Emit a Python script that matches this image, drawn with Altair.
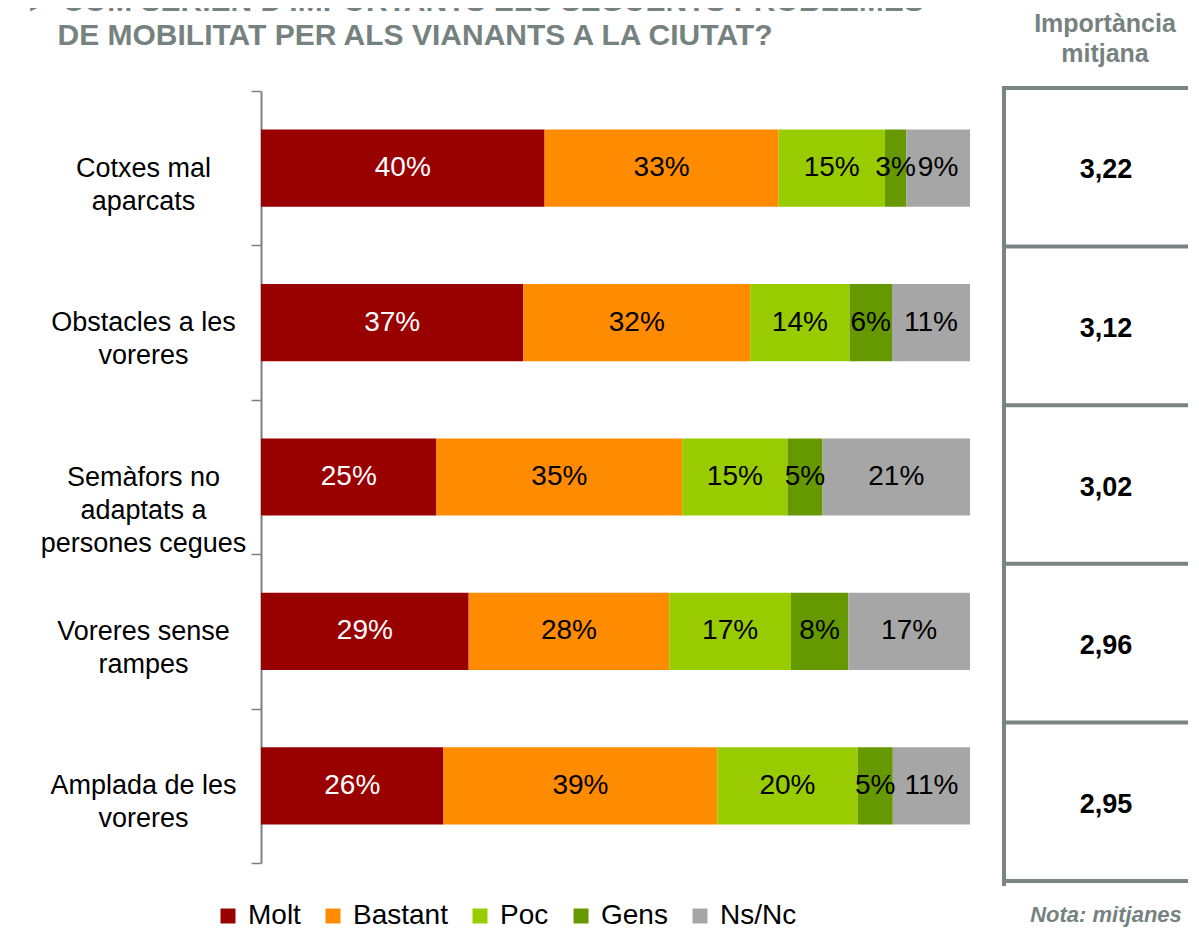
import altair as alt
import pandas as pd

# ---------------- data ----------------
title_lines = ["► COM SERIEN D'IMPORTANTS ELS SEGÜENTS PROBLEMES",
               "DE MOBILITAT PER ALS VIANANTS A LA CIUTAT?"]
categories = ["Cotxes mal\naparcats",
              "Obstacles a les\nvoreres",
              "Semàfors no\nadaptats a\npersones cegues",
              "Voreres sense\nrampes",
              "Amplada de les\nvoreres"]
series = ["Molt", "Bastant", "Poc", "Gens", "Ns/Nc"]
molt = [40, 37, 25, 29, 26]
bastant = [33, 32, 35, 28, 39]
poc = [15, 14, 15, 17, 20]
gens = [3, 6, 5, 8, 5]
nsnc = [9, 11, 21, 17, 11]
colors = ["#990000", "#ff8c00", "#99cc00", "#669900", "#a6a6a6"]
mitjana = [3.22, 3.12, 3.02, 2.96, 2.95]
header_lines = ["Importància", "mitjana"]
note_text = "Nota: mitjanes"

FONT = "Liberation Sans"
GREY_T = "#76827f"
GREY_BOX = "#7a8583"

rows = []
for i, cat in enumerate(categories):
    for j, (s, vals) in enumerate(zip(series, [molt, bastant, poc, gens, nsnc])):
        rows.append({"cat": cat, "serie": s, "value": vals[i], "order": j})
df = pd.DataFrame(rows)

# ---------------- left: stacked bars ----------------
y_axis = alt.Axis(title=None, labelExpr="split(datum.label, '\\n')", labelAlign="center",
                  labelBaseline="middle", labelFontSize=27, labelFont=FONT, labelColor="black",
                  labelLineHeight=33, labelPadding=108, labelLimit=400, tickSize=10,
                  tickBand="extent", tickColor="#808080", tickWidth=1.5,
                  domainColor="#808080", domainWidth=2, grid=False)
y_enc = alt.Y("cat:N", sort=categories,
              scale=alt.Scale(paddingInner=0, paddingOuter=0), axis=y_axis)

stacked = alt.Chart(df).transform_stack(
    stack="value", groupby=["cat"], as_=["v0", "v1"], offset="normalize",
    sort=[alt.SortField("order", order="ascending")])

bars = stacked.mark_bar(height={"band": 0.5}).encode(
    y=y_enc,
    x=alt.X("v0:Q", axis=None, scale=alt.Scale(domain=[0, 1], nice=False)),
    x2="v1:Q",
    color=alt.Color("serie:N", scale=alt.Scale(domain=series, range=colors),
                    legend=alt.Legend(title=None, orient="none", legendX=-47, legendY=811,
                                      direction="horizontal", symbolType="square",
                                      symbolSize=225, symbolStrokeWidth=0,
                                      labelFontSize=28, labelFont=FONT, labelColor="black",
                                      columnPadding=18, labelOffset=6)),
)

texts = stacked.transform_calculate(
    mid="(datum.v0 + datum.v1) / 2", label="datum.value + '%'"
).mark_text(fontSize=28, font=FONT).encode(
    y=alt.Y("cat:N", sort=categories),
    x=alt.X("mid:Q"),
    text="label:N",
    color=alt.condition("datum.serie == 'Molt'", alt.value("white"), alt.value("black")),
)

left = alt.layer(bars, texts).properties(
    width=709, height=772,
    title=alt.TitleParams(text=[title_lines[0],
                                "\u200b" + "\u00a0" * 4 + title_lines[1]],
                          anchor="start", frame="bounds", fontSize=30, fontWeight="bold",
                          font=FONT, color=GREY_T, lineHeight=34, offset=26, dx=-16),
)

# ---------------- right: mean importance boxes ----------------
W = 184
n = len(mitjana)
box_df = pd.DataFrame({"idx": list(range(n)), "val": mitjana})
edge_df = pd.DataFrame({"b": list(range(n + 1))})
side_df = pd.DataFrame({"b0": [0], "b1": [n]})
yscale = alt.Scale(domain=[0, n], reverse=True, nice=False, zero=False)

hlines = alt.Chart(edge_df).mark_rule(stroke=GREY_BOX, strokeWidth=4, yOffset=-3).encode(
    y=alt.Y("b:Q", scale=yscale, axis=None), x=alt.value(0), x2=alt.value(W))
vline = alt.Chart(side_df).mark_rule(stroke=GREY_BOX, strokeWidth=4, yOffset=-3,
                                     strokeCap="square").encode(
    y=alt.Y("b0:Q", scale=yscale, axis=None), y2="b1:Q", x=alt.value(0))
vals = alt.Chart(box_df).transform_calculate(
    yc="datum.idx + 0.5", txt="replace(format(datum.val, '.2f'), '.', ',')"
).mark_text(fontSize=27, fontWeight="bold", font=FONT, color="black").encode(
    y=alt.Y("yc:Q", scale=yscale, axis=None), x=alt.value(102), text="txt:N")
note = alt.Chart(pd.DataFrame({"t": [note_text]})).mark_text(
    fontSize=22, fontWeight="bold", fontStyle="italic", font=FONT, color=GREY_T,
    baseline="alphabetic").encode(x=alt.value(102), y=alt.value(831), text="t:N")

right = alt.layer(hlines, vline, vals, note).properties(
    width=W, height=793,
    title=alt.TitleParams(text=header_lines, anchor="middle", fontSize=25, fontWeight="bold",
                          font=FONT, color=GREY_T, lineHeight=30, offset=18, dx=9),
)

chart = alt.hconcat(left, right, spacing=31).resolve_scale(color="independent").properties(
    padding={"left": 16, "top": -21, "right": 0, "bottom": 0}
).configure(font=FONT).configure_view(stroke=None)

chart.save("out.html", embed_options={"renderer": "svg", "actions": False})
